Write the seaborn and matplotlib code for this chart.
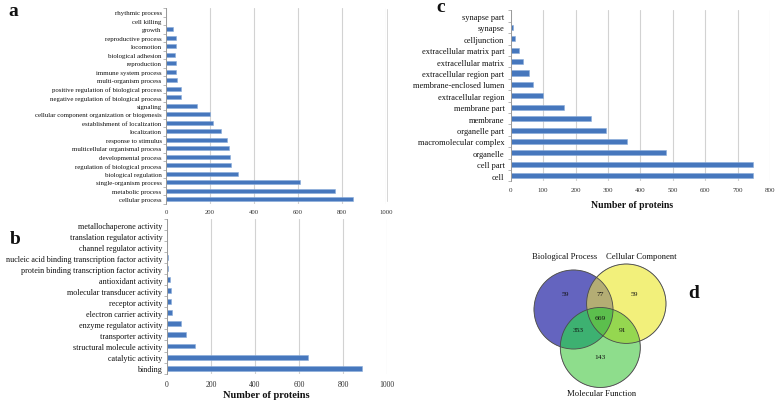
import numpy as np
import pandas as pd
import matplotlib
matplotlib.use("Agg")
import matplotlib.pyplot as plt
from matplotlib.patches import Circle
from matplotlib.lines import Line2D
import seaborn as sns

# ---------------- data ----------------
bp_terms = ["rhythmic process", "cell killing", "growth", "reproductive process", "locomotion",
            "biological adhesion", "reproduction", "immune system process", "multi-organism process",
            "positive regulation of biological process", "negative regulation of biological process",
            "signaling", "cellular component organization or biogenesis", "establishment of localization",
            "localization", "response to stimulus", "multicellular organismal process",
            "developmental process", "regulation of biological process", "biological regulation",
            "single-organism process", "metabolic process", "cellular process"]
bp_counts = [1, 1, 33, 44, 44, 43, 45, 45, 48, 68, 70, 139, 201, 213, 251, 279, 286, 289, 297,
             327, 607, 767, 851]

mf_terms = ["metallochaperone activity", "translation regulator activity", "channel regulator activity",
            "nucleic acid binding transcription factor activity",
            "protein binding transcription factor activity", "antioxidant activity",
            "molecular transducer activity", "receptor activity", "electron carrier activity",
            "enzyme regulator activity", "transporter activity", "structural molecule activity",
            "catalytic activity", "binding"]
mf_counts = [1, 1, 1, 5, 6, 13, 19, 19, 21, 65, 86, 129, 639, 886]

cc_terms = ["synapse part", "synapse", "celljunction", "extracellular matrix part",
            "extracellular matrix", "extracellular region part", "membrane-enclosed lumen",
            "extracellular region", "membrane part", "membrane", "organelle part",
            "macromolecular complex", "organelle", "cell part", "cell"]
cc_counts = [2, 6, 14, 27, 38, 58, 68, 99, 165, 247, 293, 359, 480, 748, 748]

venn_sets = ["Biological Process", "Cellular Component", "Molecular Function"]
venn_region_names = ["BP", "CC", "MF", "BP&CC", "BP&MF", "CC&MF", "BP&CC&MF"]
venn_region_counts = [59, 59, 143, 77, 353, 91, 669]

# ---------------- style ----------------
sns.set_theme(style="white")
plt.rcParams['font.family'] = ['Liberation Serif', 'DejaVu Serif']

W, H = 778, 402
fig = plt.figure(figsize=(W / 100, H / 100), dpi=100)


def px_axes(x0, y0, x1, y1):
    return fig.add_axes([x0 / W, 1 - y1 / H, (x1 - x0) / W, (y1 - y0) / H])


BAR = "#4677BD"
GRID = "#D2D2D2"


def bar_panel(ax, cats, vals, xmax, step, lab_fs, tick_fs, width, tick_pad, lab_pad,
              xlabel=None, xlabel_xy=None, xlabel_fs=7.5):
    df = pd.DataFrame({"term": cats, "count": vals})
    sns.barplot(data=df, x="count", y="term", ax=ax, color=BAR, width=width, orient="h",
                edgecolor="#8AACDA", linewidth=0.4, saturation=1)
    ax.set_xlim(0, xmax)
    ax.set_xticks(np.arange(0, xmax + 1, step))
    ax.tick_params(axis="x", labelsize=tick_fs, length=0, pad=tick_pad, colors="#333333")
    ax.tick_params(axis="y", labelsize=lab_fs, length=0, pad=lab_pad, colors="#111111")
    ax.set_yticks(np.arange(-0.5, len(cats)), minor=True)
    ax.tick_params(axis="y", which="minor", length=2.2, width=0.5, color="#9A9A9A", direction="out", left=True)
    ax.grid(axis="x", color=GRID, lw=0.8)
    ax.set_axisbelow(True)
    for s in ["top", "right", "bottom"]:
        ax.spines[s].set_visible(False)
    ax.spines["left"].set_color("#9A9A9A")
    ax.spines["left"].set_linewidth(0.7)
    ax.set_ylabel("")
    if xlabel:
        ax.set_xlabel(xlabel, fontsize=xlabel_fs, fontweight="bold", color="#111111")
        ax.xaxis.label.set_va("center")
        ax.xaxis.set_label_coords(*xlabel_xy)
    else:
        ax.set_xlabel("")


# panel a
ax_a = px_axes(166, 9, 386, 204.5)
bar_panel(ax_a, bp_terms, bp_counts, 1000, 200, lab_fs=4.95, tick_fs=4.8, width=0.5,
          tick_pad=4, lab_pad=3.2)

# panel b
ax_b = px_axes(167, 220, 387, 374.6)
bar_panel(ax_b, mf_terms, mf_counts, 1000, 200, lab_fs=5.9, tick_fs=5.6, width=0.45,
          tick_pad=4.5, lab_pad=3.4,
          xlabel="Number of proteins",
          xlabel_xy=((266 - 167) / 220, (374.6 - 396) / (374.6 - 220)), xlabel_fs=7.5)

# panel c
ax_c = px_axes(510.7, 11.3, 770, 182.4)
bar_panel(ax_c, cc_terms, cc_counts, 800, 100, lab_fs=6.0, tick_fs=5.0, width=0.45,
          tick_pad=4, lab_pad=4.5,
          xlabel="Number of proteins",
          xlabel_xy=((631.7 - 510.7) / 259.3, (182.4 - 205.3) / (182.4 - 11.3)), xlabel_fs=7.0)

# faint frame line of panel c
fig.add_artist(Line2D([387 / W, 387 / W], [1 - 10 / H, 1 - 202 / H], color="#D6D6D6", lw=0.7))

# panel letters
for letter, (x, y) in zip("abcd", [(13, 11), (15, 240), (441, 7), (694, 294)]):
    fig.text(x / W, 1 - y / H, letter, fontsize=14, fontweight="bold", ha="center", va="center",
             color="#111111")

# panel d: Venn diagram
ax_d = px_axes(480, 220, 778, 402)
ax_d.set_xlim(480, 778)
ax_d.set_ylim(402, 220)
ax_d.axis("off")

circles = {"BP": (573.5, 310.5, 39.5), "CC": (626.3, 304.7, 39.7), "MF": (600.3, 348.5, 40.0)}
region_colors = {"BP": (100, 100, 192), "CC": (242, 240, 124), "MF": (142, 222, 140),
                 "BP&CC": (180, 174, 116), "BP&MF": (62, 178, 114), "CC&MF": (150, 215, 80),
                 "BP&CC&MF": (92, 192, 78)}
res = 4
xs = np.linspace(480, 778, (778 - 480) * res)
ys = np.linspace(220, 402, (402 - 220) * res)
X, Y = np.meshgrid(xs, ys)
inside = {k: (X - cx) ** 2 + (Y - cy) ** 2 <= r ** 2 for k, (cx, cy, r) in circles.items()}
img = np.zeros(X.shape + (4,))
for name in venn_region_names:
    parts = name.split("&")
    mask = np.ones(X.shape, bool)
    for k in ["BP", "CC", "MF"]:
        mask &= inside[k] if k in parts else ~inside[k]
    img[mask, :3] = np.array(region_colors[name]) / 255
    img[mask, 3] = 1
ax_d.imshow(img, extent=(480, 778, 402, 220), origin="upper", interpolation="bilinear", zorder=1)
for k, (cx, cy, r) in circles.items():
    ax_d.add_patch(Circle((cx, cy), r, fill=False, ec="#4A4A4A", lw=0.6, zorder=2))

count_pos = {"BP": (565.7, 294.3), "CC": (634.3, 294.3), "MF": (600.3, 357.3),
             "BP&CC": (600, 294.3), "BP&MF": (578.3, 330.7), "CC&MF": (622.7, 330.7),
             "BP&CC&MF": (600, 318.7)}
for name, cnt in zip(venn_region_names, venn_region_counts):
    x, y = count_pos[name]
    ax_d.text(x, y, str(cnt), fontsize=5.4, ha="center", va="center", color="#111111", zorder=3)

label_pos = [(564.5, 257.3), (641.5, 257.3), (601.7, 394)]
for lab, (x, y) in zip(venn_sets, label_pos):
    ax_d.text(x, y, lab, fontsize=6.2, ha="center", va="center", color="#111111", zorder=3)

fig.savefig("out.png", dpi=100)
